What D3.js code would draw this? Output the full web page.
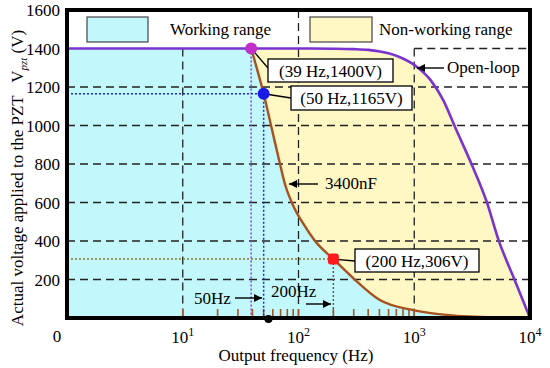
<!DOCTYPE html>
<html><head><meta charset="utf-8">
<script src="https://cdn.jsdelivr.net/npm/d3@7/dist/d3.min.js"></script>
<style>
body{margin:0;background:#fff;}
svg, svg text{font-family:"Liberation Serif","Times New Roman",Times,serif;}
</style></head>
<body><svg id="c" width="550" height="368" font-family="'Liberation Serif', 'Times New Roman', Times, serif"></svg>
<script>
// ---- data ----
const openLoopFreq = [1, 100, 200, 300, 400, 506, 700, 1050, 1400, 1780, 2250, 3170, 4225, 5400, 7310, 10000];
const openLoopVolt = [1400, 1400, 1399, 1397, 1393, 1384, 1362, 1305, 1232, 1132, 992, 791, 604, 398, 203, 0];
const capFreq = [39, 50, 60, 68, 76, 89, 110, 139, 200, 300, 500, 1000, 2000, 3000, 5000, 10000];
const capVolt = [1400, 1165, 960, 820, 700, 590, 490, 400, 306, 205, 95, 40, 15, 8, 3, 0];
const keyPoints = [
  {f:39, v:1400, label:"(39 Hz,1400V)", color:"#c030c8", guide:"#9040e0"},
  {f:50, v:1165, label:"(50 Hz,1165V)", color:"#1a1ae6", guide:"#1a2ae0"},
  {f:200, v:306, label:"(200 Hz,306V)", color:"#ff1a1a", guide:"#8a7a30"}
];
const yTicks = [200, 400, 600, 800, 1000, 1200, 1400, 1600];
const xTickExp = [1, 2, 3, 4];
const minorTicks = [10,20,30,40,50,60,70,80,90,100,200,300,400,500,600,700,800,900,1000];
const gridY = [200, 400, 600, 800, 1000, 1200];
const legendLabels = ["Working range", "Non-working range"];

// ---- setup ----
const FONT = "'Liberation Serif', 'Times New Roman', Times, serif";
const svg = d3.select("#c");
const L = 67, R = 530, T = 10, B = 318;
const x = d3.scaleLog().domain([1, 1e4]).range([L, R]);
const y = d3.scaleLinear().domain([0, 1600]).range([B, T]);

const openLoop = openLoopFreq.map((f, i) => ({f, v: openLoopVolt[i]}));
const cap = capFreq.map((f, i) => ({f, v: capVolt[i]}));
const working = [{f:1, v:1400}].concat(cap);

const area = d3.area().x(d => x(d.f)).y0(y(0)).y1(d => y(d.v)).curve(d3.curveMonotoneX);
const line = d3.line().x(d => x(d.f)).y(d => y(d.v)).curve(d3.curveMonotoneX);

// fills
svg.append("path").datum(openLoop).attr("d", area).attr("fill", "#fff7c4");
svg.append("path").datum(working).attr("d", area).attr("fill", "#c2f8fb");

// grid
const g = svg.append("g").attr("stroke", "#222").attr("stroke-width", 1.3).attr("stroke-dasharray", "8,5").attr("fill", "none");
gridY.forEach(v => g.append("line").attr("x1", L).attr("x2", R).attr("y1", y(v)).attr("y2", y(v)));
g.append("line").attr("x1", x(1000)).attr("x2", R).attr("y1", y(1400)).attr("y2", y(1400));
g.append("line").attr("x1", x(10)).attr("x2", x(10)).attr("y1", y(1400)).attr("y2", B);
g.append("line").attr("x1", x(100)).attr("x2", x(100)).attr("y1", T).attr("y2", B);
g.append("line").attr("x1", x(1000)).attr("x2", x(1000)).attr("y1", y(1400)).attr("y2", B);

// minor ticks
svg.append("g").selectAll("line").data(minorTicks).join("line")
  .attr("x1", d => x(d)).attr("x2", d => x(d)).attr("y1", B).attr("y2", B - 9)
  .attr("stroke", "#a0582a").attr("stroke-width", 1.6);

// guide lines for key points
keyPoints.forEach((p, i) => {
  svg.append("line").attr("x1", x(p.f)).attr("x2", x(p.f)).attr("y1", y(p.v)).attr("y2", B)
    .attr("stroke", i === 2 ? "#606050" : p.guide).attr("stroke-width", 1.5).attr("stroke-dasharray", "2,2");
  if (i > 0) svg.append("line").attr("x1", L).attr("x2", x(p.f)).attr("y1", y(p.v)).attr("y2", y(p.v))
    .attr("stroke", p.guide).attr("stroke-width", 1.5).attr("stroke-dasharray", "2,2");
});

// curves
svg.append("path").datum(openLoop).attr("d", line).attr("fill", "none").attr("stroke", "#7a32d2").attr("stroke-width", 2.6);
svg.append("path").datum(cap).attr("d", line).attr("fill", "none").attr("stroke", "#a8501e").attr("stroke-width", 2.4);

// frame
svg.append("rect").attr("x", L).attr("y", T).attr("width", R - L).attr("height", B - T)
  .attr("fill", "none").attr("stroke", "#000").attr("stroke-width", 4);

// dot on axis
svg.append("circle").attr("cx", x(55)).attr("cy", B + 1).attr("r", 4).attr("fill", "#000");

// arrow marker
const defs = svg.append("defs");
defs.append("marker").attr("id", "arr").attr("viewBox", "0 0 10 10").attr("refX", 10).attr("refY", 5)
  .attr("markerWidth", 10).attr("markerHeight", 8).attr("markerUnits", "userSpaceOnUse").attr("orient", "auto")
  .append("path").attr("d", "M0,0 L10,5 L0,10 Z").attr("fill", "#000");

function txt(xp, yp, s, size) {
  return svg.append("text").attr("x", xp).attr("y", yp).attr("font-family", FONT).attr("font-size", size).attr("fill", "#000").text(s);
}

// annotation boxes
const boxes = [
  {x:268, y:59, w:125, h:23, lx:x(39), ly:y(1400), ty:68},
  {x:291, y:86, w:121, h:24, lx:x(50), ly:y(1165), ty:98},
  {x:355, y:249, w:124, h:23, lx:x(200), ly:y(306), ty:261}
];
boxes.forEach((b, i) => {
  svg.append("line").attr("x1", b.lx).attr("y1", b.ly).attr("x2", b.x).attr("y2", b.ty).attr("stroke", "#000").attr("stroke-width", 1.3);
  svg.append("rect").attr("x", b.x).attr("y", b.y).attr("width", b.w).attr("height", b.h)
    .attr("fill", "#fff").attr("stroke", "#000").attr("stroke-width", 1.3);
  txt(b.x + b.w / 2, b.y + b.h / 2 + 6, keyPoints[i].label, 17).attr("text-anchor", "middle");
});

// key point markers
keyPoints.forEach((p, i) => {
  if (i === 2) svg.append("rect").attr("x", x(p.f) - 5.5).attr("y", y(p.v) - 5.5).attr("width", 11).attr("height", 11).attr("rx", 3).attr("fill", p.color);
  else svg.append("circle").attr("cx", x(p.f)).attr("cy", y(p.v)).attr("r", 6).attr("fill", p.color);
});

// text annotations with arrows
function arrow(x1, y1, x2, y2) {
  svg.append("line").attr("x1", x1).attr("y1", y1).attr("x2", x2).attr("y2", y2)
    .attr("stroke", "#000").attr("stroke-width", 1.4).attr("marker-end", "url(#arr)");
}
txt(447, 73, "Open-loop", 17);
arrow(444, 68, 417, 68);
txt(325, 189, "3400nF", 17);
arrow(318, 184, 289, 184);
txt(194, 304, "50Hz", 17);
arrow(235, 298, 262, 298);
txt(271, 297, "200Hz", 17);
arrow(306, 304, 331, 304);

// legend
const lg = [
  {x:87, w:61, fill:"#c2f8fb", tx:170},
  {x:310, w:62, fill:"#fff7c4", tx:379}
];
lg.forEach((l, i) => {
  svg.append("rect").attr("x", l.x).attr("y", 17).attr("width", l.w).attr("height", 25)
    .attr("fill", l.fill).attr("stroke", "#444").attr("stroke-width", 1.2);
  txt(l.tx, 35, legendLabels[i], 17);
});

// y tick labels
svg.append("g").selectAll("text").data(yTicks).join("text")
  .attr("font-family", FONT).attr("font-size", 17)
  .attr("x", 60).attr("y", d => y(d) + 6).attr("text-anchor", "end").text(d => d);
// x tick labels
txt(57, 342, "0", 17).attr("text-anchor", "middle");
xTickExp.forEach(e => {
  const t = svg.append("text").attr("font-family", FONT).attr("x", x(Math.pow(10, e))).attr("y", 343).attr("text-anchor", "middle").attr("font-size", 17);
  t.append("tspan").text("10");
  t.append("tspan").attr("dy", -7).attr("font-size", 12).text(e);
});
txt(296, 361, "Output frequency (Hz)", 17).attr("text-anchor", "middle");

// y label
const yl = svg.append("text").attr("font-family", FONT).attr("transform", "translate(23,178) rotate(-90)").attr("text-anchor", "middle").attr("font-size", 17);
yl.append("tspan").text("Actual voltage applied to the PZT\u2002 V");
yl.append("tspan").attr("dy", 4).attr("font-size", 11).attr("font-style", "italic").text("pzt");
yl.append("tspan").attr("dy", -4).text(" (V)");
</script></body></html>
